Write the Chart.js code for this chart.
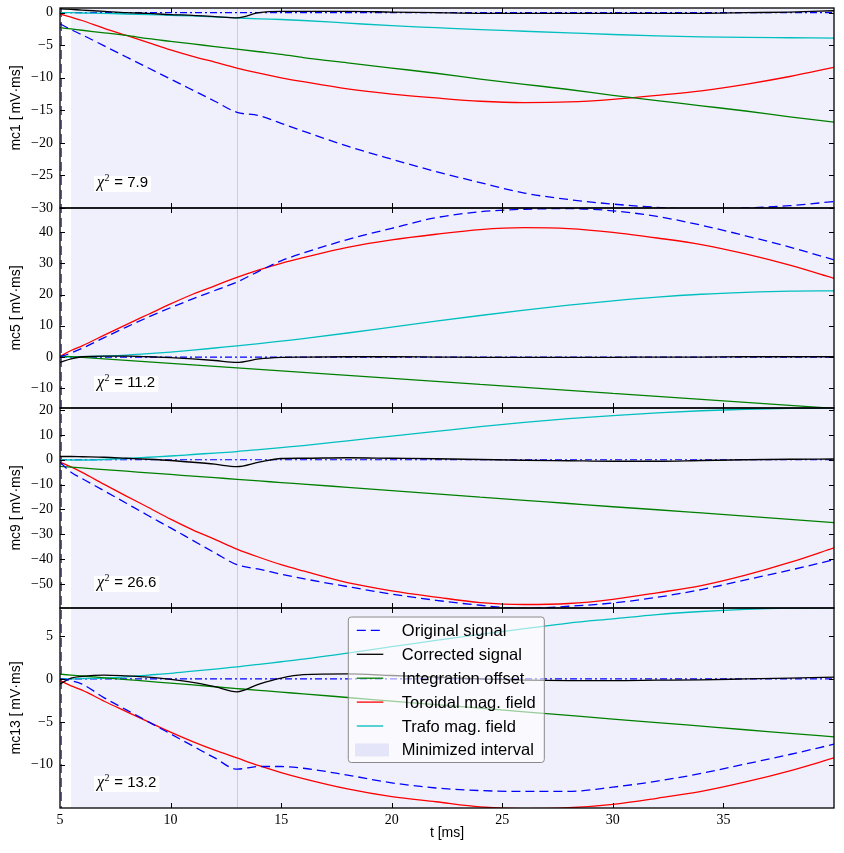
<!DOCTYPE html>
<html>
<head>
<meta charset="utf-8">
<script src="https://cdn.jsdelivr.net/npm/chart.js@4.4.1/dist/chart.umd.min.js"></script>
<style>
  html, body { margin: 0; padding: 0; background: #fff; }
  #wrap { width: 844px; height: 853px; }
</style>
</head>
<body>
<div id="wrap"><canvas id="chart"></canvas></div>
<script>
// time axis [ms]
const times = [5, 5.5, 6, 7, 8, 9, 10, 11, 12, 13, 14, 15, 16, 18, 20, 22, 24, 26, 28, 30, 32, 34, 36, 38, 40];
const timeTicks = [5, 10, 15, 20, 25, 30, 35];

// mc1
const mc1Original = [-1.7, -2.6, -3.4, -5.1, -6.8, -8.5, -10.2, -11.9, -13.6, -15.3, -15.8, -17.0, -18.2, -20.5, -22.5, -24.4, -26.1, -27.7, -28.7, -29.4, -29.9, -30.2, -30.0, -29.65, -29.0];
const mc1Corrected = [0.6, 0.5, 0.4, 0.2, 0.0, -0.1, -0.3, -0.4, -0.6, -0.8, 0.0, 0.2, 0.2, 0.2, 0.1, 0.0, -0.1, -0.1, -0.1, -0.1, -0.1, -0.1, 0.0, 0.1, 0.3];
const mc1Offset = [-2.3, -2.5, -2.7, -3.1, -3.5, -4.0, -4.4, -4.8, -5.2, -5.6, -6.0, -6.4, -6.9, -7.7, -8.5, -9.3, -10.2, -11.0, -11.8, -12.7, -13.5, -14.3, -15.1, -16.0, -16.8];
const mc1Toroidal = [-0.2, -0.7, -1.2, -2.4, -3.5, -4.6, -5.7, -6.7, -7.6, -8.5, -9.3, -10.0, -10.6, -11.7, -12.5, -13.1, -13.6, -13.8, -13.7, -13.3, -12.7, -12.0, -11.0, -9.8, -8.4];
const mc1Trafo = [0, 0, -0.05, -0.1, -0.2, -0.3, -0.4, -0.5, -0.65, -0.8, -0.95, -1.05, -1.2, -1.6, -2.0, -2.3, -2.6, -2.85, -3.1, -3.35, -3.55, -3.7, -3.8, -3.85, -3.9];
const mc1Ticks = [-30, -25, -20, -15, -10, -5, 0];

// mc5
const mc5Original = [0, 1.3, 2.8, 6.2, 9.6, 12.8, 15.8, 18.6, 21.3, 24.0, 27.5, 30.8, 33.3, 37.6, 41.2, 44.6, 46.5, 47.3, 47.5, 46.8, 45.0, 42.2, 38.8, 35.2, 31.1];
const mc5Corrected = [-1.7, -0.6, 0.1, 0.3, 0.3, 0.1, -0.2, -0.6, -1.1, -1.7, -0.6, -0.1, 0.0, 0.1, 0.1, 0.0, -0.1, -0.1, -0.1, -0.1, 0.0, 0.0, 0.1, 0.1, 0.1];
const mc5Offset = [0.4, 0.16, -0.08, -0.56, -1.04, -1.52, -2.0, -2.48, -2.96, -3.44, -3.92, -4.4, -4.88, -5.84, -6.8, -7.76, -8.72, -9.68, -10.64, -11.6, -12.56, -13.52, -14.48, -15.44, -16.4];
const mc5Toroidal = [0.2, 2.1, 3.6, 7.0, 10.4, 13.7, 17.0, 20.1, 22.8, 25.5, 27.9, 30.0, 31.8, 35.1, 37.5, 39.3, 40.8, 41.4, 41.1, 39.9, 38.1, 36.0, 33.0, 29.4, 25.2];
const mc5Trafo = [0, 0.05, 0.1, 0.3, 0.6, 1.1, 1.6, 2.2, 2.9, 3.6, 4.3, 5.1, 5.9, 7.7, 9.6, 11.5, 13.3, 15.0, 16.6, 18.0, 19.2, 20.1, 20.7, 21.1, 21.2];
const mc5Ticks = [-10, 0, 10, 20, 30, 40];

// mc9
const mc9Original = [-1.0, -5.0, -7.6, -12.5, -17.5, -22.5, -27.4, -32.4, -37.4, -42.2, -44.0, -46.0, -47.8, -51.0, -54.0, -56.5, -58.5, -59.8, -58.9, -57.6, -55.3, -52.2, -48.3, -44.4, -40.2];
const mc9Corrected = [1.3, 1.3, 1.2, 1.0, 0.6, 0.2, -0.3, -1.0, -1.8, -2.8, -1.0, 0.5, 0.6, 0.8, 0.6, 0.4, 0.1, -0.2, -0.4, -0.6, -0.6, -0.3, 0.0, 0.2, 0.3];
const mc9Offset = [-2.7, -3.0, -3.3, -4.0, -4.6, -5.3, -5.9, -6.6, -7.2, -7.9, -8.5, -9.2, -9.8, -11.1, -12.4, -13.7, -15.0, -16.3, -17.6, -18.9, -20.1, -21.4, -22.7, -24.0, -25.3];
const mc9Toroidal = [-0.9, -2.9, -5.1, -9.9, -14.6, -19.2, -23.9, -28.2, -32.0, -35.9, -39.2, -42.2, -44.7, -49.4, -52.7, -55.2, -57.4, -58.2, -57.8, -56.1, -53.5, -50.6, -46.4, -41.3, -35.4];
const mc9Trafo = [0, -0.1, -0.1, 0.1, 0.5, 1.0, 1.5, 2.1, 2.7, 3.3, 4.1, 4.9, 5.7, 7.6, 9.5, 11.4, 13.3, 15.0, 16.5, 17.7, 18.8, 19.7, 20.3, 20.7, 20.8];
const mc9Ticks = [-50, -40, -30, -20, -10, 0, 10, 20];

// mc13
const mc13Original = [0, -0.2, -0.6, -2.2, -3.6, -5.0, -6.4, -7.8, -9.2, -10.5, -10.2, -10.2, -10.4, -11.2, -12.1, -12.7, -13.0, -13.1, -13.1, -12.6, -11.9, -11.0, -9.9, -8.8, -7.6];
const mc13Corrected = [-0.6, 0.1, 0.3, 0.45, 0.35, 0.2, -0.05, -0.4, -0.9, -1.5, -0.6, 0.1, 0.5, 0.6, 0.4, 0.2, 0.0, -0.15, -0.2, -0.2, -0.15, -0.1, 0.0, 0.1, 0.2];
const mc13Offset = [0.55, 0.45, 0.34, 0.13, -0.08, -0.28, -0.49, -0.7, -0.91, -1.12, -1.33, -1.54, -1.74, -2.16, -2.58, -3.0, -3.41, -3.83, -4.25, -4.67, -5.08, -5.5, -5.92, -6.33, -6.75];
const mc13Toroidal = [-0.2, -0.8, -1.3, -2.6, -3.8, -5.0, -6.2, -7.3, -8.3, -9.2, -10.1, -10.9, -11.6, -12.8, -13.7, -14.3, -14.9, -15.1, -15.0, -14.6, -13.9, -13.1, -12.0, -10.7, -9.2];
const mc13Trafo = [0, 0, 0.05, 0.1, 0.25, 0.45, 0.65, 0.9, 1.15, 1.4, 1.7, 2.0, 2.3, 3.0, 3.75, 4.5, 5.2, 5.85, 6.5, 7.0, 7.5, 7.85, 8.1, 8.25, 8.3];
const mc13Ticks = [-10, -5, 0, 5];

const panelNames = ["mc1", "mc5", "mc9", "mc13"];
const chiSquared = ["7.9", "11.2", "26.6", "13.2"];
const seriesLabels = ["Original signal", "Corrected signal", "Integration offset", "Toroidal mag. field", "Trafo mag. field"];
const intervalLabel = "Minimized interval";
const intervalStart = 5.5;
const kinkTime = 13;
const zeroLevel = 0;

const panelSeries = [
  [mc1Original, mc1Corrected, mc1Offset, mc1Toroidal, mc1Trafo],
  [mc5Original, mc5Corrected, mc5Offset, mc5Toroidal, mc5Trafo],
  [mc9Original, mc9Corrected, mc9Offset, mc9Toroidal, mc9Trafo],
  [mc13Original, mc13Corrected, mc13Offset, mc13Toroidal, mc13Trafo],
];
const panelTicks = [mc1Ticks, mc5Ticks, mc9Ticks, mc13Ticks];

// styling
const seriesColors = ["#0000ff", "#000000", "#008000", "#ff0000", "#00bfbf"];
const seriesDashes = [[9, 5], [], [], [], []];
const shadeColor = "rgba(204,204,245,0.3)";
const panelRanges = [
  { min: -30, max: 0.72 },
  { min: -16.3, max: 47.7 },
  { min: -59.6, max: 20.8 },
  { min: -15.03, max: 8.26 },
];
const tickFont = { family: "'Liberation Serif', serif", size: 14 };
const labelFont = { family: "'Liberation Sans', sans-serif", size: 14 };

const datasets = [];
panelNames.forEach((name, i) => {
  panelSeries[i].forEach((values, j) => {
    datasets.push({
      label: seriesLabels[j],
      data: times.map((t, k) => ({ x: t, y: values[k] })),
      yAxisID: name,
      borderColor: seriesColors[j],
      borderDash: seriesDashes[j],
      borderWidth: 1.3,
      pointRadius: 0,
      fill: false,
      cubicInterpolationMode: "monotone",
    });
  });
  datasets.push({
    label: "zero",
    data: [{ x: times[0], y: zeroLevel }, { x: times[times.length - 1], y: zeroLevel }],
    yAxisID: name,
    borderColor: "#0000ff",
    borderDash: [7, 3, 2, 3],
    borderWidth: 1.2,
    pointRadius: 0,
    fill: false,
  });
});

function minusSign(v) {
  return String(v).replace("-", "\u2212");
}

const scales = {
  x: {
    type: "linear",
    position: "bottom",
    min: 5,
    max: 40,
    grid: { display: false, drawTicks: false },
    border: { display: false },
    ticks: { padding: 4, font: tickFont, color: "#000", maxRotation: 0, autoSkip: false },
    title: { display: true, text: "t [ms]", font: labelFont, color: "#000", padding: { top: 0, bottom: 11 } },
    afterBuildTicks: (s) => {
      s.ticks = timeTicks.map((v) => ({ value: v }));
    },
    afterFit: (s) => {
      s.height = 45;
      s.paddingLeft = 0;
      s.paddingRight = 0;
    },
  },
};
// stacked scales are placed bottom-up, so declare the lowest panel first
for (let i = panelNames.length - 1; i >= 0; i--) {
  const name = panelNames[i];
  const r = panelRanges[i];
  const tickValues = panelTicks[i];
  scales[name] = {
    type: "linear",
    position: "left",
    stack: "panels",
    stackWeight: 1,
    offset: false,
    min: r.min,
    max: r.max,
    grid: { display: false, drawTicks: false },
    border: { display: false },
    ticks: { padding: 7, autoSkip: false, font: tickFont, color: "#000", callback: (v) => minusSign(v) },
    title: { display: true, text: name + " [\u2009mV\u00b7ms]", font: labelFont, color: "#000", padding: { top: 7.6, bottom: 0 } },
    afterBuildTicks: (s) => {
      s.ticks = tickValues.map((v) => ({ value: v }));
    },
    afterFit: (s) => {
      s.width = 60;
      s.paddingTop = 0;
      s.paddingBottom = 0;
    },
  };
}

function roundedRect(ctx, x, y, w, h, r) {
  ctx.beginPath();
  ctx.moveTo(x + r, y);
  ctx.arcTo(x + w, y, x + w, y + h, r);
  ctx.arcTo(x + w, y + h, x, y + h, r);
  ctx.arcTo(x, y + h, x, y, r);
  ctx.arcTo(x, y, x + w, y, r);
  ctx.closePath();
}

const decorations = {
  id: "decorations",
  beforeDatasetsDraw(chart) {
    const { ctx, chartArea: a, scales: s } = chart;
    const x = s.x;
    ctx.save();
    // minimized interval
    const xs = x.getPixelForValue(intervalStart);
    ctx.fillStyle = shadeColor;
    ctx.fillRect(xs, a.top, a.right - xs, a.bottom - a.top);
    // vertical line at the kink
    const xk = Math.round(x.getPixelForValue(kinkTime)) + 0.5;
    ctx.strokeStyle = "#cdcedc";
    ctx.lineWidth = 1;
    ctx.beginPath();
    ctx.moveTo(xk, a.top);
    ctx.lineTo(xk, a.bottom);
    ctx.stroke();
    // original signal start (vertical dashed)
    const x0 = x.getPixelForValue(times[0]) + 1.2;
    ctx.strokeStyle = "#0000ff";
    ctx.setLineDash([9, 5]);
    ctx.beginPath();
    ctx.moveTo(x0, a.top);
    ctx.lineTo(x0, a.bottom);
    ctx.stroke();
    ctx.restore();
  },
  afterDatasetsDraw(chart) {
    const { ctx, chartArea: a, scales: s } = chart;
    const x = s.x;
    ctx.save();
    panelNames.forEach((name, i) => {
      const y = s[name];
      // inward ticks
      ctx.strokeStyle = "#000";
      ctx.lineWidth = 1;
      ctx.beginPath();
      x.ticks.forEach((t) => {
        const px = Math.round(x.getPixelForValue(t.value)) + 0.5;
        if (px <= a.left + 2) return;
        ctx.moveTo(px, y.top);
        ctx.lineTo(px, y.top + 5);
        ctx.moveTo(px, y.bottom);
        ctx.lineTo(px, y.bottom - 5);
      });
      y.ticks.forEach((t) => {
        const py = Math.round(y.getPixelForValue(t.value)) + 0.5;
        ctx.moveTo(a.left, py);
        ctx.lineTo(a.left + 5, py);
        ctx.moveTo(a.right, py);
        ctx.lineTo(a.right - 5, py);
      });
      ctx.stroke();
      // frame
      ctx.lineWidth = 1.3;
      ctx.strokeRect(a.left, y.top, a.right - a.left, y.bottom - y.top);

      // chi-squared label
      const tx = a.left + 37;
      const base = y.bottom - 21;
      ctx.font = "italic 16px 'Liberation Serif'";
      const wChi = ctx.measureText("\u03c7").width;
      ctx.font = "10px 'Liberation Serif'";
      const w2 = ctx.measureText("2").width;
      ctx.font = "15px 'Liberation Sans'";
      const rest = " = " + chiSquared[i];
      const wRest = ctx.measureText(rest).width;
      ctx.fillStyle = "rgba(255,255,255,0.9)";
      ctx.fillRect(tx - 3, y.bottom - 32, wChi + w2 + 1 + wRest + 6, 16);
      ctx.fillStyle = "#000";
      ctx.textBaseline = "alphabetic";
      ctx.textAlign = "left";
      ctx.font = "italic 16px 'Liberation Serif'";
      ctx.fillText("\u03c7", tx, base);
      ctx.font = "10px 'Liberation Serif'";
      ctx.fillText("2", tx + wChi + 0.5, base - 6);
      ctx.font = "15px 'Liberation Sans'";
      ctx.fillText(rest, tx + wChi + w2 + 1, base);
    });

    // legend
    const yl = s[panelNames[3]];
    const lx = a.left + 288.3;
    const ly = yl.top + 9;
    const lw = 196;
    const lh = 145.5;
    roundedRect(ctx, lx, ly, lw, lh, 3);
    ctx.fillStyle = "rgba(255,255,255,0.6)";
    ctx.fill();
    ctx.strokeStyle = "#8a8a8a";
    ctx.lineWidth = 1;
    ctx.stroke();
    ctx.font = "16.5px 'Liberation Sans'";
    ctx.textBaseline = "middle";
    ctx.textAlign = "left";
    const rows = seriesLabels.concat([intervalLabel]);
    rows.forEach((label, j) => {
      const ry = ly + 13.4 + j * 23.9;
      if (j < seriesLabels.length) {
        ctx.strokeStyle = seriesColors[j];
        ctx.lineWidth = 1.3;
        ctx.setLineDash(seriesDashes[j]);
        ctx.beginPath();
        ctx.moveTo(lx + 8.5, ry);
        ctx.lineTo(lx + 35, ry);
        ctx.stroke();
        ctx.setLineDash([]);
      } else {
        ctx.fillStyle = "rgba(204,204,245,0.45)";
        ctx.fillRect(lx + 6.7, ry - 6.5, 34, 13);
      }
      ctx.fillStyle = "#000";
      ctx.fillText(label, lx + 53.5, ry + 1);
    });
    ctx.restore();
  },
};

const chart = new Chart(document.getElementById("chart").getContext("2d"), {
  type: "line",
  data: { datasets: datasets },
  options: {
    responsive: true,
    maintainAspectRatio: false,
    animation: false,
    layout: { padding: { top: 8, right: 10, bottom: 0, left: 0 } },
    plugins: { legend: { display: false }, tooltip: { enabled: false } },
    scales: scales,
  },
  plugins: [decorations],
});
</script>
</body>
</html>
